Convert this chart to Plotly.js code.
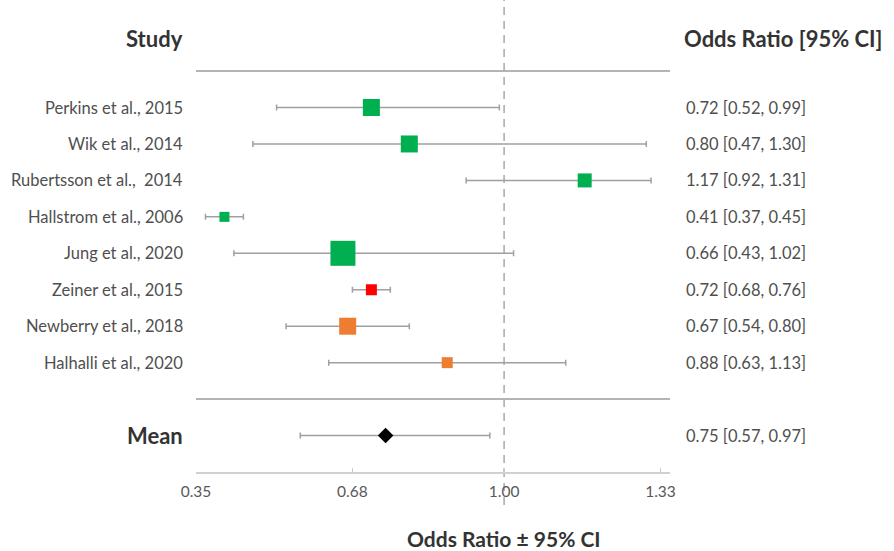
<!DOCTYPE html>
<html>
<head>
<meta charset="utf-8">
<script src="https://cdn.plot.ly/plotly-3.0.1.min.js"></script>
<style>html,body{margin:0;padding:0;background:#fff;}#chart{width:894px;height:551px;}</style>
</head>
<body>
<div id="chart"></div>
<script>
// ---- data ----
const studies = ["Perkins et al., 2015", "Wik et al., 2014", "Rubertsson et al.,  2014", "Hallstrom et al., 2006",
                 "Jung et al., 2020", "Zeiner et al., 2015", "Newberry et al., 2018", "Halhalli et al., 2020"];
const oddsRatio = [0.72, 0.80, 1.17, 0.41, 0.66, 0.72, 0.67, 0.88];
const ciLower   = [0.52, 0.47, 0.92, 0.37, 0.43, 0.68, 0.54, 0.63];
const ciUpper   = [0.99, 1.30, 1.31, 0.45, 1.02, 0.76, 0.80, 1.13];
const meanLabel = "Mean";
const meanOR = 0.75, meanLower = 0.57, meanUpper = 0.97;
const tickVals = [0.35, 0.68, 1.00, 1.33];
const tickText = ["0.35", "0.68", "1.00", "1.33"];
const refValue = 1.00;

// ---- styles ----
const markerSize  = [17, 17, 14, 10, 25, 11, 17, 11];
const markerColor = ["#00B050", "#00B050", "#00B050", "#00B050", "#00B050", "#FF0000", "#ED7D31", "#ED7D31"];
const font = "Lato, 'Open Sans', sans-serif";
const textCol = "#4f4f4f";
const headCol = "#333333";
const errCol = "#a0a0a0";
const labelSize = 16.5, headSize = 22;

const rows = studies.map((_, i) => i);
const meanRow = studies.length + 1;
const sepRow = studies.length;

const traces = [
  {
    type: "scatter", mode: "markers",
    x: oddsRatio, y: rows,
    marker: {symbol: "square", size: markerSize, color: markerColor, opacity: 1, line: {width: 0}},
    error_x: {type: "data", symmetric: false,
      array: oddsRatio.map((v, i) => ciUpper[i] - v),
      arrayminus: oddsRatio.map((v, i) => v - ciLower[i]),
      color: errCol, thickness: 1.5, width: 3},
    hoverinfo: "skip", showlegend: false, cliponaxis: false
  },
  {
    type: "scatter", mode: "markers",
    x: [meanOR], y: [meanRow],
    marker: {symbol: "diamond", size: 12, color: "#000000", opacity: 1, line: {width: 0}},
    error_x: {type: "data", symmetric: false,
      array: [meanUpper - meanOR], arrayminus: [meanOR - meanLower],
      color: errCol, thickness: 1.5, width: 3},
    hoverinfo: "skip", showlegend: false, cliponaxis: false
  }
];

const fmt = v => v.toFixed(2);
const annotations = [];
studies.forEach((s, i) => {
  annotations.push({xref: "paper", yref: "y", x: 0, y: i, xanchor: "right", xshift: -11, text: s,
    showarrow: false, font: {family: font, size: labelSize, color: textCol}});
  annotations.push({xref: "paper", yref: "y", x: 1, y: i, xanchor: "left", xshift: 14,
    text: `${fmt(oddsRatio[i])} [${fmt(ciLower[i])}, ${fmt(ciUpper[i])}]`,
    showarrow: false, font: {family: font, size: labelSize, color: textCol}});
});
annotations.push({xref: "paper", yref: "y", x: 0, y: meanRow, xanchor: "right", xshift: -11, text: "<b>" + meanLabel + "</b>",
  showarrow: false, font: {family: font, size: headSize, color: headCol}});
annotations.push({xref: "paper", yref: "y", x: 1, y: meanRow, xanchor: "left", xshift: 14,
  text: `${fmt(meanOR)} [${fmt(meanLower)}, ${fmt(meanUpper)}]`,
  showarrow: false, font: {family: font, size: labelSize, color: textCol}});
annotations.push({xref: "paper", yref: "y", x: 0, y: -1.9, xanchor: "right", xshift: -11, text: "<b>Study</b>",
  showarrow: false, font: {family: font, size: headSize, color: headCol}});
annotations.push({xref: "paper", yref: "y", x: 1, y: -1.9, xanchor: "left", xshift: 12, text: "<b>Odds Ratio [95% CI]</b>",
  showarrow: false, font: {family: font, size: headSize, color: headCol}});
// axis title, centred on the reference line
annotations.push({xref: "x", yref: "paper", x: refValue, y: -0.14, xanchor: "center", yanchor: "middle",
  text: "<b>Odds Ratio ± 95% CI</b>", showarrow: false, font: {family: font, size: headSize - 1, color: headCol}});

const layout = {
  width: 894, height: 551,
  margin: {l: 196, r: 224, t: 0, b: 79},
  paper_bgcolor: "#fff", plot_bgcolor: "#fff",
  font: {family: font, color: textCol},
  xaxis: {
    range: [0.35, 1.35], tickvals: tickVals, ticktext: tickText,
    showgrid: false, zeroline: false, showline: true, linecolor: "#d0d0d0", linewidth: 1.5,
    ticks: "inside", ticklen: 4, tickcolor: "#c8c8c8", tickwidth: 1.5,
    ticklabelstandoff: 5,
    tickfont: {family: font, size: 15.5, color: "#595959"},
    fixedrange: true
  },
  yaxis: {
    range: [10, -2.95], showgrid: false, zeroline: false, showline: false, showticklabels: false, ticks: "",
    fixedrange: true
  },
  shapes: [
    {type: "line", xref: "x", yref: "paper", x0: refValue, x1: refValue, y0: -0.07, y1: 1,
      line: {color: "#a8a8a8", width: 1.5, dash: "8px,6px"}, layer: "below"},
    {type: "line", xref: "x", yref: "y", x0: 0.35, x1: 1.35, y0: -1, y1: -1,
      line: {color: "#b4b4b4", width: 2}, layer: "below"},
    {type: "line", xref: "x", yref: "y", x0: 0.35, x1: 1.35, y0: sepRow, y1: sepRow,
      line: {color: "#b4b4b4", width: 2}, layer: "below"}
  ],
  annotations: annotations,
  showlegend: false
};

Plotly.newPlot("chart", traces, layout, {displayModeBar: false, staticPlot: true});
</script>
</body>
</html>
